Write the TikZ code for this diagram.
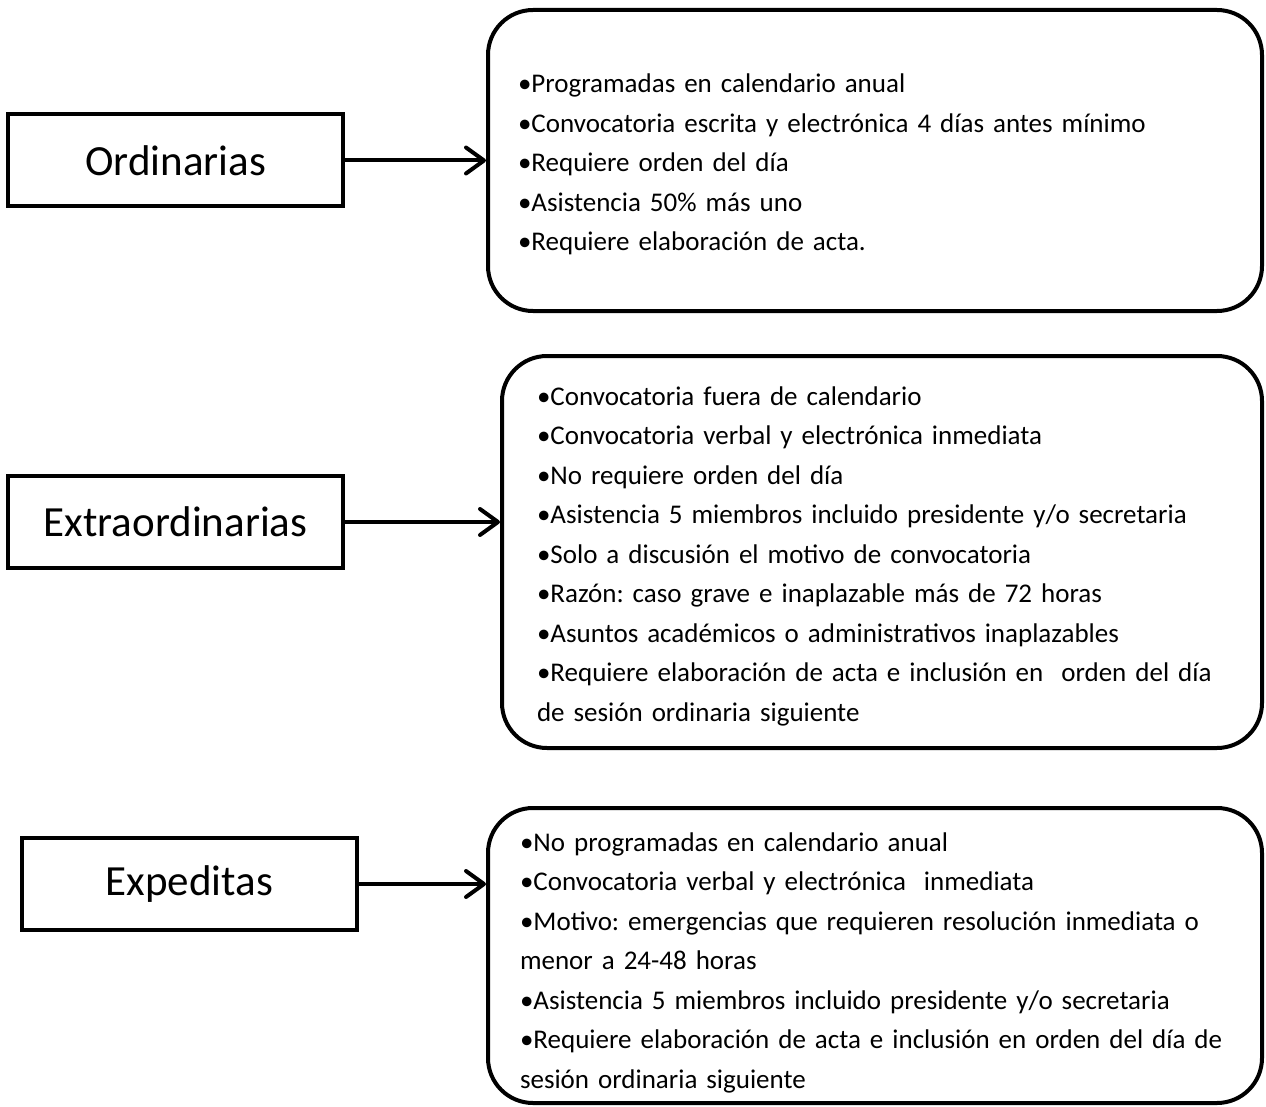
\documentclass[tikz,border=0pt]{standalone}
\usepackage{fontspec}
\setmainfont{Carlito}
\frenchspacing
\usetikzlibrary{arrows.meta}
\begin{document}
\begin{tikzpicture}[x=1pt,y=-1pt,
  lbl/.style={draw,line width=4pt,minimum width=335pt,minimum height=92pt,inner sep=0pt,
    font=\fontsize{43}{50}\selectfont},
  info/.style={draw,line width=4pt,rounded corners=45pt,inner ysep=0pt,align=left,
    font=\fontsize{27}{39.5}\selectfont},
  conn/.style={line width=4pt,-{Straight Barb[length=18pt,width=26pt,line cap=round,line join=round]}}]
\useasboundingbox (0,0) rectangle (1266,1107);
\node[lbl] (l1) at (175.5,160.5) {Ordinarias};
\node[lbl] (l2) at (175.5,522) {Extraordinarias};
\node[lbl] (l3) at (189.5,884) {Expeditas};
\node[info,minimum width=774pt,minimum height=301pt,inner xsep=30pt,text width=714pt] (r1) at (875,160.5)
 {\rule{0pt}{27pt}•Programadas en calendario anual\\
  •Convocatoria escrita y electrónica 4 días antes mínimo\\
  •Requiere orden del día\\
  •Asistencia 50\% más uno\\
  •Requiere elaboración de acta.};
\node[info,minimum width=760pt,minimum height=392pt,inner xsep=35pt,text width=690pt] (r2) at (882,552)
 {\rule{0pt}{27pt}•Convocatoria fuera de calendario\\
  •Convocatoria verbal y electrónica inmediata\\
  •No requiere orden del día\\
  •Asistencia 5 miembros incluido presidente y/o secretaria\\
  •Solo a discusión el motivo de convocatoria\\
  •Razón: caso grave e inaplazable más de 72 horas\\
  •Asuntos académicos o administrativos inaplazables\\
  \mbox{•Requiere elaboración de acta e inclusión en~ orden del día}\\
  de sesión ordinaria siguiente};
\node[info,minimum width=774pt,minimum height=295pt,inner xsep=32pt,text width=710pt] (r3) at (875,955.5)
 {\rule{0pt}{33pt}•No programadas en calendario anual\\
  •Convocatoria verbal y electrónica~ inmediata\\
  \mbox{•Motivo: emergencias que requieren resolución inmediata o}\\
  menor a 24-48 horas\\
  •Asistencia 5 miembros incluido presidente y/o secretaria\\
  \mbox{•Requiere elaboración de acta e inclusión en orden del día de}\\
  sesión ordinaria siguiente};
\draw[conn] (l1) -- (r1.west |- l1);
\draw[conn] (l2) -- (r2.west |- l2);
\draw[conn] (l3) -- (r3.west |- l3);
\end{tikzpicture}
\end{document}
